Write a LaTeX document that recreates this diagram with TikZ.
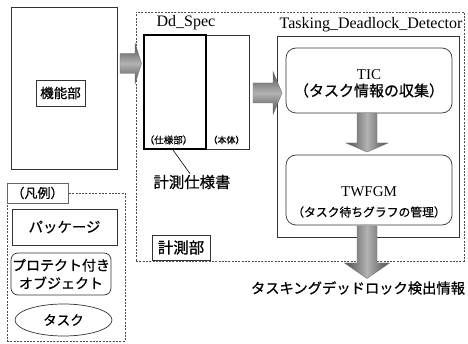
\documentclass[tikz,border=0pt]{standalone}
\usepackage{fontspec}
\setmainfont{Liberation Serif}
\newfontfamily\jp[FakeBold=0.7]{Noto Sans CJK JP}
\usetikzlibrary{calc,shapes.geometric}
\newcommand{\HBlockArrow}[5]{%
  \path[hblock] let \p1=#1, \p2=#2 in
   (\x1,\y2+#3) -- (\x2-#5,\y2+#3) -- (\x2-#5,\y2+#4) -- (\x2,\y2) --
   (\x2-#5,\y2-#4) -- (\x2-#5,\y2-#3) -- (\x1,\y2-#3) -- cycle;}
\newcommand{\VBlockArrow}[5]{%
  \path[vblock] let \p1=#1, \p2=#2 in
   (\x2-#3,\y1) -- (\x2-#3,\y2+#5) -- (\x2-#4,\y2+#5) -- (\x2,\y2) --
   (\x2+#4,\y2+#5) -- (\x2+#3,\y2+#5) -- (\x2+#3,\y1) -- cycle;}
\tikzset{
  thinbox/.style={draw=black!80, line width=0.7pt, inner sep=0pt},
  thickbox/.style={draw=black, line width=2pt, inner sep=0pt},
  dashbox/.style={draw=black!70, line width=0.6pt, dash pattern=on 2pt off 1.3pt, inner sep=0pt},
  roundbox/.style={thinbox, rounded corners=10pt},
  jptext/.style={font=\jp\fontsize{#1}{#1}\selectfont, inner sep=1pt, align=center},
  latintext/.style={font=\fontsize{#1}{#1}\selectfont, inner sep=1pt},
  hblock/.style={draw=black!55, line width=0.4pt, top color=black!70, bottom color=black!70, middle color=black!30},
  vblock/.style={draw=black!55, line width=0.4pt, left color=black!70, right color=black!70, middle color=black!30},
}
\begin{document}
\begin{tikzpicture}[x=1pt,y=-1pt]
\useasboundingbox[fill=white] (0,0) rectangle (468,344);

% functional part
\node[thinbox, minimum width=106pt, minimum height=162pt] (fun) at (64,88) {};
\node[thinbox, minimum width=49pt, minimum height=26pt, jptext=13.5] (funlbl) at (60.5,93) {機能部};

% measurement part (package)
\node[dashbox, minimum width=328pt, minimum height=249pt] (kei) at (300,136.5) {};
\node[thinbox, fill=white, minimum width=58pt, minimum height=25pt, jptext=15.5] (keilbl) at (181,247.5) {計測部};

% Dd_Spec
\node[latintext=16] (ddlbl) at (186,23) {Dd\_Spec};
\node[thinbox, minimum width=43pt, minimum height=114pt] (body) at (227.5,92) {};
\node[thickbox, minimum width=62pt, minimum height=114pt] (spec) at (175,92) {};
\node[jptext=9.5] (speclbl) at (168.5,140) {（仕様部）};
\node[jptext=9] (bodylbl) at (226.5,140) {（本体）};
\node[jptext=15.4] (kss) at (192,182) {計測仕様書};
\draw[black, line width=0.6pt] ($(spec.south)+(-2,0)$) -- ($(kss.north)+(-2,0)$);

% Tasking_Deadlock_Detector
\node[latintext=16] (tdlbl) at (371,25) {Tasking\_Deadlock\_Detector};
\node[thinbox, minimum width=182pt, minimum height=201pt] (td) at (368,136.5) {};
\node[roundbox, minimum width=166pt, minimum height=65pt] (tic) at (369,80.5) {};
\node[latintext=15] (tictxt) at (369,74.5) {TIC};
\node[jptext=15] (ticsub) at (369,90.5) {（タスク情報の収集）};
\node[roundbox, minimum width=166pt, minimum height=70pt] (twf) at (369,190) {};
\node[latintext=15] (twftxt) at (369,191.5) {TWFGM};
\node[jptext=11.8] (twfsub) at (369,212) {（タスク待ちグラフの管理）};

% block arrows
\coordinate (a1s) at (120,63.5);
\coordinate (a1t) at (141.5,63.5);
\HBlockArrow{(a1s)}{(a1t)}{10pt}{20.5pt}{6.5pt}
\coordinate (a2s) at (253,93);
\coordinate (a2t) at (282,93);
\HBlockArrow{(a2s)}{(a2t)}{10pt}{21.5pt}{9pt}
\coordinate (a3s) at (367,113);
\coordinate (a3t) at (367,152);
\VBlockArrow{(a3s)}{(a3t)}{10pt}{21pt}{9pt}
\coordinate (a4s) at (367,226);
\coordinate (a4t) at (367,278.5);
\VBlockArrow{(a4s)}{(a4t)}{10pt}{22.5pt}{15.5pt}

\node[jptext=14.3] (out) at (358,288) {タスキングデッドロック検出情報};

% legend
\node[dashbox, minimum width=118pt, minimum height=148pt] (leg) at (66,267) {};
\node[thinbox, draw=black!60, fill=white, minimum width=61pt, minimum height=20pt, jptext=13] (leglbl) at (37.5,193) {（凡例）};
\node[thinbox, minimum width=105pt, minimum height=36pt, jptext=14.4] (pkg) at (64.5,227) {パッケージ};
\node[thinbox, rounded corners=7pt, minimum width=98pt, minimum height=42pt, jptext=14, font=\jp\fontsize{14}{18}\selectfont] (prot) at (61,274) {プロテクト付き\\オブジェクト};
\node[thinbox, ellipse, minimum width=97pt, minimum height=32pt, jptext=13.5] (task) at (63.5,320) {タスク};
\end{tikzpicture}
\end{document}
